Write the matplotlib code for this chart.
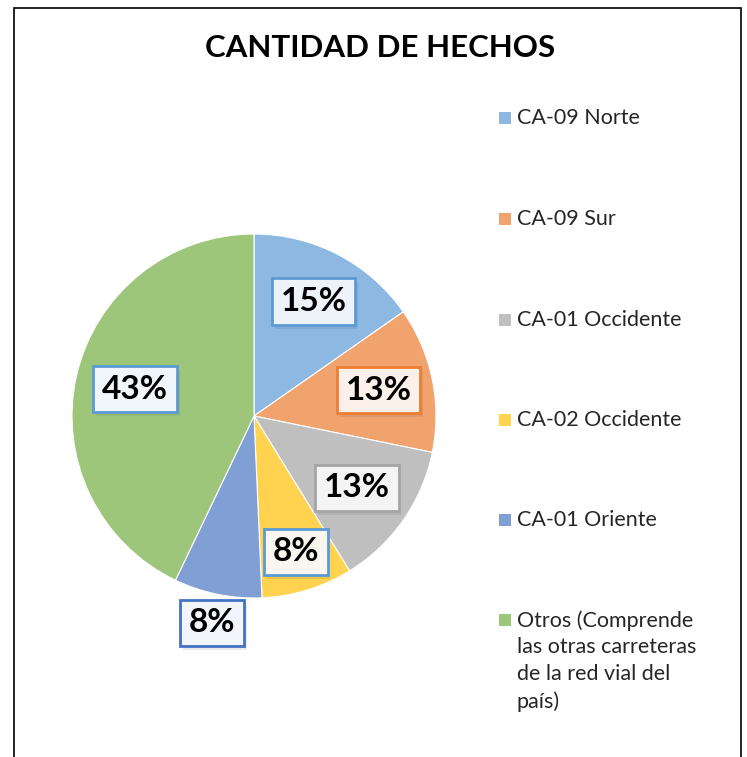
import numpy as np
import matplotlib
matplotlib.use('Agg')
from matplotlib import pyplot as plt
from matplotlib import patheffects as pe

categories = ['CA-09 Norte', 'CA-09 Sur', 'CA-01 Occidente', 'CA-02 Occidente',
              'CA-01 Oriente',
              'Otros (Comprende\nlas otras carreteras\nde la red vial del\npaís)']
shares = [15.3, 12.9, 13.0, 8.1, 7.8, 42.9]
pct_labels = ['15%', '13%', '13%', '8%', '8%', '43%']

colors = ['#8db8e2', '#f1a36e', '#bfbfbf', '#ffd34f', '#7f9fd5', '#9dc67a']
box_edges = ['#5b9bd5', '#ed7d31', '#a5a5a5', '#5b9bd5', '#4472c4', '#5b9bd5']
box_faces = ['#eef3fa', '#fbf1ea', '#f4f4f4', '#f8f6ee', '#f2f5fb', '#f1f6fb']
label_r = [0.71, 0.70, 0.69, 0.78, 1.16, 0.67]

W, H = 747, 757
fig = plt.figure(figsize=(W / 100, H / 100), dpi=100)
ax = fig.add_axes([0, 0, 1, 1])
ax.set_xlim(0, W)
ax.set_ylim(0, H)
ax.set_aspect('equal')
ax.axis('off')

# chart frame (open at the bottom)
ax.plot([14, 14, 741, 741], [0, H - 8, H - 8, 0], color='black', lw=1.2,
        solid_joinstyle='miter')

ax.text(380, H - 48, 'CANTIDAD DE HECHOS', ha='center', va='center',
        fontsize=22.5, fontweight='bold', family='Lato')

cx, cy, R = 254, H - 416, 182
wedges, _ = ax.pie(shares, colors=colors, startangle=90, counterclock=False,
                   center=(cx, cy), radius=R,
                   wedgeprops=dict(edgecolor='white', linewidth=0.8))
ax.set_xlim(0, W)
ax.set_ylim(0, H)

for w, lab, r, ec, fc in zip(wedges, pct_labels, label_r, box_edges, box_faces):
    ang = np.deg2rad((w.theta1 + w.theta2) / 2)
    x = cx + r * R * np.cos(ang)
    y = cy + r * R * np.sin(ang)
    t = ax.text(x, y, lab, ha='center', va='center', fontsize=24,
                fontweight='bold', family='Lato', color='black',
                bbox=dict(boxstyle='square,pad=0.26', fc=fc, ec=ec, lw=2))
    t.get_bbox_patch().set_path_effects(
        [pe.SimplePatchShadow(offset=(2, -3), alpha=0.12, shadow_rgbFace='#555555'),
         pe.Normal()])

# legend
ly = [118, 219, 320, 420, 520, 620]
for c, name, y in zip(colors, categories, ly):
    ax.scatter([505], [H - y], marker='s', s=80, color=c, linewidths=0)
    ax.text(517, H - y + 10, name, ha='left', va='top', fontsize=15.5,
            family='Lato', color='#262626', linespacing=1.42)

fig.savefig('out.png', dpi=100)
